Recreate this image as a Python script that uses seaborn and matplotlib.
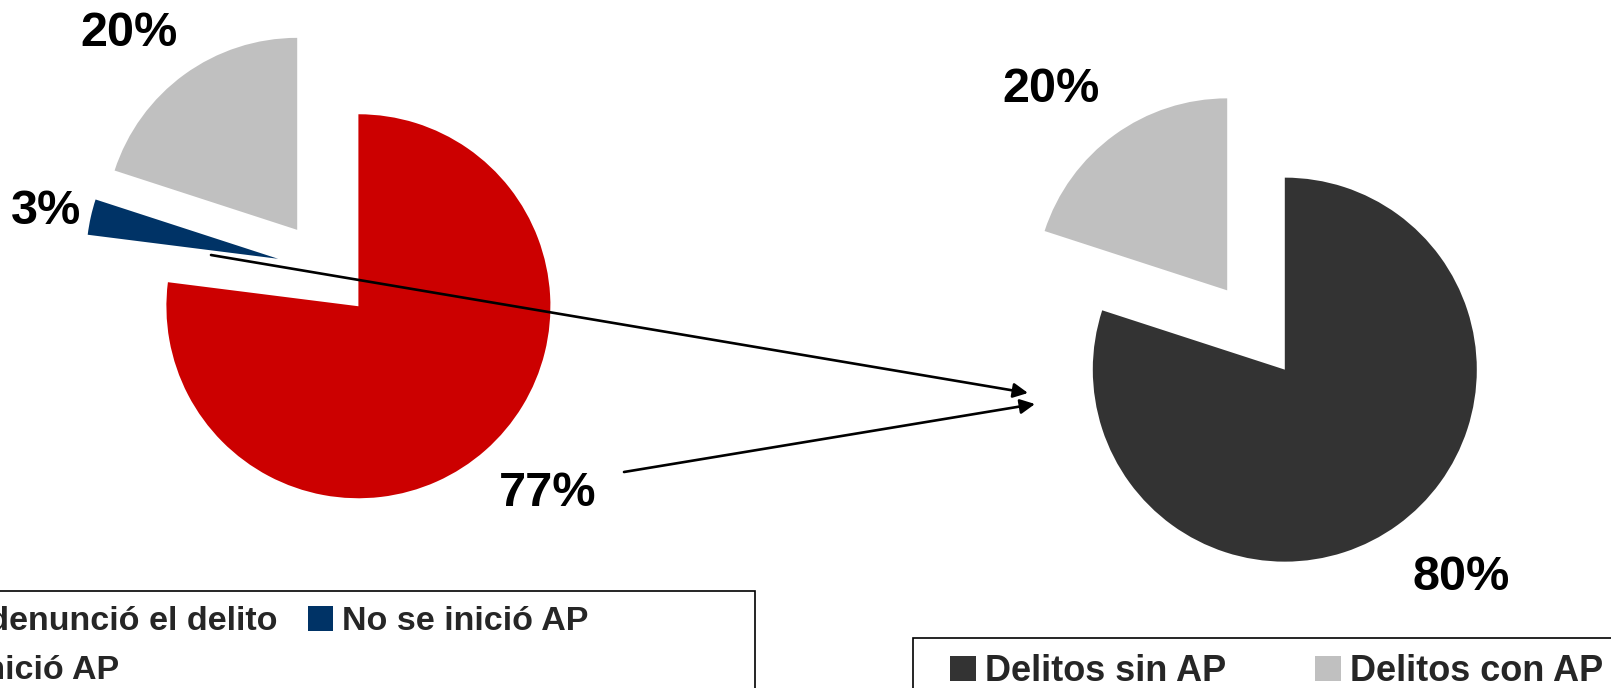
import matplotlib as mtl
mtl.use('Agg')
import matplotlib.pyplot as plt
from matplotlib.patches import Patch, Rectangle
import seaborn as sns

# data
left_labels = ['No se denunció el delito', 'No se inició AP', 'Sí se inició AP']
left_values = [77, 3, 20]
left_colors = ['#CC0000', '#003366', '#C0C0C0']

right_labels = ['Delitos sin AP', 'Delitos con AP']
right_values = [80, 20]
right_colors = ['#333333', '#C0C0C0']

sns.set_theme(style='white')
plt.rcParams['font.family'] = ['Liberation Sans', 'DejaVu Sans']

W, H = 1611, 688
fig = plt.figure(figsize=(W / 100, H / 100), dpi=100)
ax = fig.add_axes([0, 0, 1, 1])

R = 192
EXP = 49

ax.pie(left_values, colors=left_colors, startangle=90, counterclock=False,
       radius=R, center=(326, 418.5), explode=[EXP] * len(left_values),
       wedgeprops=dict(linewidth=0))
ax.pie(right_values, colors=right_colors, startangle=90, counterclock=False,
       radius=R, center=(1256, 358), explode=[EXP] * len(right_values),
       wedgeprops=dict(linewidth=0))

ax.set_xlim(0, W)
ax.set_ylim(0, H)
ax.set_aspect('auto')
ax.axis('off')

lbl = dict(fontsize=35, fontweight='bold', ha='center', va='center', color='black')
left_pos = [(548, 195), (46, 477), (129, 654)]
for v, (x, y) in zip(left_values, left_pos):
    ax.text(x, y, '%d%%' % v, **lbl)
right_pos = [(1461, 111), (1051, 599)]
for v, (x, y) in zip(right_values, right_pos):
    ax.text(x, y, '%d%%' % v, **lbl)

# arrows
arr = dict(arrowstyle='-|>', color='black', lw=1.9, mutation_scale=22, shrinkA=0, shrinkB=0)
ax.annotate('', xy=(1028, 295), xytext=(211, 433), arrowprops=arr)
ax.annotate('', xy=(1035, 284), xytext=(624, 216), arrowprops=arr)

# legend frames
ax.add_patch(Rectangle((-10, -10), 765, 107, fill=False, edgecolor='black', lw=1.2, clip_on=False))
ax.add_patch(Rectangle((913, -10), 800, 60, fill=False, edgecolor='black', lw=1.2, clip_on=False))

lh = [Patch(facecolor=c, edgecolor='none') for c in left_colors]
order = [0, 2, 1]
leg1 = ax.legend([lh[i] for i in order], [left_labels[i] for i in order], ncol=2,
                 loc='upper right', bbox_to_anchor=(588 / W, 82 / H), frameon=False,
                 prop=dict(size=24.5, weight='bold'), handlelength=0.75, handleheight=0.75,
                 handletextpad=0.25, columnspacing=0.87, borderpad=0, borderaxespad=0,
                 labelspacing=0.5)
ax.add_artist(leg1)

rh = [Patch(facecolor=c, edgecolor='none') for c in right_colors]
ax.legend(rh, right_labels, ncol=2, loc='upper left', bbox_to_anchor=(950 / W, 34 / H),
          frameon=False, prop=dict(size=26, weight='bold'), handlelength=0.72,
          handleheight=0.72, handletextpad=0.25, columnspacing=2.45, borderpad=0,
          borderaxespad=0)

plt.savefig('out.png', dpi=100)
